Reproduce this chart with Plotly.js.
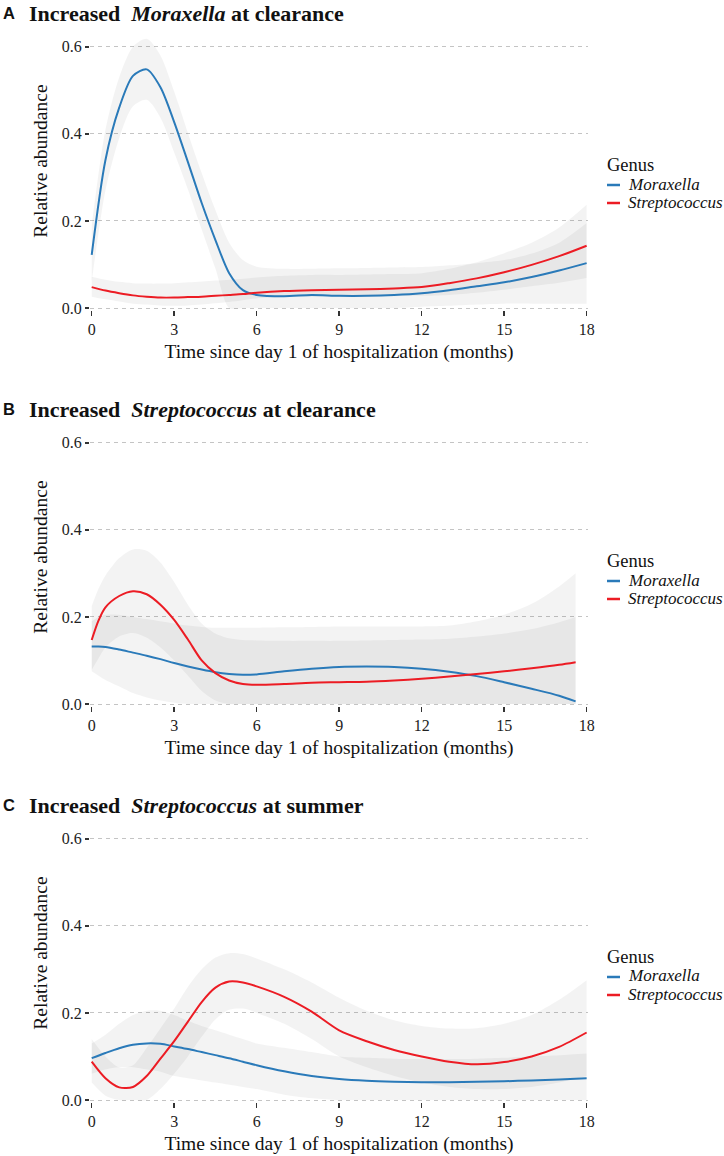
<!DOCTYPE html>
<html>
<head>
<meta charset="utf-8">
<script src="https://cdn.plot.ly/plotly-3.0.1.min.js"></script>
<style>
  html, body { margin: 0; padding: 0; background: #fff; }
  #chart { width: 724px; height: 1156px; }
</style>
</head>
<body>
<div id="chart"></div>
<script>
// smoothed relative abundance (loess fits)
var months = [0, 0.5, 1, 1.5, 2, 2.5, 3, 3.5, 4, 4.5, 5, 5.5, 6, 7, 8, 9, 10, 11, 12, 13, 14, 15, 16, 17, 18];
var monthsB = [0, 0.25, 0.5, 1, 1.5, 2, 2.5, 3, 3.5, 4, 4.5, 5, 5.5, 6, 7, 8, 9, 10, 11, 12, 13, 14, 15, 16, 17, 17.6];
var xTicks = [0, 3, 6, 9, 12, 15, 18];
var yTicks = [0, 0.2, 0.4, 0.6];
var yTickText = ["0.0", "0.2", "0.4", "0.6"];

// panel A - increased Moraxella at clearance
var moraxA    = [0.122, 0.34, 0.46, 0.533, 0.548, 0.507, 0.427, 0.335, 0.241, 0.156, 0.080, 0.041, 0.030, 0.027, 0.030, 0.028, 0.028, 0.030, 0.034, 0.041, 0.050, 0.059, 0.071, 0.086, 0.103];
var moraxALo  = [0.06, 0.27, 0.39, 0.463, 0.478, 0.437, 0.357, 0.272, 0.18, 0.09, 0.0, 0, 0, 0, 0, 0, 0, 0, 0.003, 0.005, 0.008, 0.01, 0.01, 0.01, 0.01];
var moraxAHi  = [0.19, 0.41, 0.53, 0.60, 0.618, 0.58, 0.497, 0.402, 0.31, 0.225, 0.15, 0.11, 0.095, 0.09, 0.09, 0.091, 0.092, 0.093, 0.094, 0.098, 0.103, 0.11, 0.125, 0.15, 0.195];
var streptA   = [0.048, 0.040, 0.034, 0.029, 0.026, 0.024, 0.024, 0.025, 0.026, 0.028, 0.030, 0.032, 0.035, 0.039, 0.041, 0.042, 0.043, 0.045, 0.048, 0.057, 0.068, 0.082, 0.099, 0.119, 0.143];
var streptALo = [0.026, 0.02, 0.015, 0.01, 0.008, 0.006, 0.005, 0.006, 0.008, 0.011, 0.014, 0.018, 0.022, 0.025, 0.026, 0.026, 0.026, 0.027, 0.028, 0.030, 0.035, 0.042, 0.050, 0.058, 0.069];
var streptAHi = [0.072, 0.065, 0.06, 0.057, 0.056, 0.056, 0.057, 0.059, 0.061, 0.063, 0.065, 0.067, 0.070, 0.074, 0.076, 0.076, 0.077, 0.078, 0.080, 0.090, 0.105, 0.126, 0.150, 0.185, 0.237];

// panel B - increased Streptococcus at clearance
var moraxB    = [0.132, 0.132, 0.131, 0.125, 0.118, 0.111, 0.103, 0.094, 0.086, 0.079, 0.073, 0.069, 0.067, 0.068, 0.075, 0.081, 0.085, 0.086, 0.085, 0.081, 0.074, 0.064, 0.050, 0.035, 0.019, 0.006];
var moraxBLo  = [0.075, 0.065, 0.055, 0.04, 0.025, 0.015, 0.008, 0.003, 0, 0, 0, 0, 0, 0, 0, 0, 0, 0, 0, 0, 0, 0, 0, 0, 0, 0];
var moraxBHi  = [0.19, 0.20, 0.205, 0.205, 0.20, 0.195, 0.19, 0.185, 0.18, 0.177, 0.175, 0.175, 0.175, 0.175, 0.176, 0.177, 0.178, 0.178, 0.178, 0.178, 0.18, 0.19, 0.205, 0.23, 0.27, 0.30];
var streptB   = [0.147, 0.192, 0.222, 0.248, 0.259, 0.252, 0.228, 0.193, 0.148, 0.100, 0.071, 0.054, 0.046, 0.044, 0.046, 0.049, 0.050, 0.051, 0.054, 0.058, 0.063, 0.069, 0.075, 0.082, 0.090, 0.096];
var streptBLo = [0.078, 0.105, 0.13, 0.155, 0.163, 0.152, 0.13, 0.10, 0.065, 0.03, 0.008, 0, 0, 0, 0, 0, 0, 0, 0, 0, 0, 0, 0, 0, 0, 0];
var streptBHi = [0.225, 0.265, 0.295, 0.335, 0.355, 0.352, 0.325, 0.28, 0.228, 0.185, 0.162, 0.151, 0.147, 0.146, 0.145, 0.145, 0.145, 0.146, 0.147, 0.148, 0.15, 0.155, 0.162, 0.172, 0.188, 0.20];

// panel C - increased Streptococcus at summer
var moraxC    = [0.096, 0.108, 0.119, 0.127, 0.130, 0.129, 0.123, 0.117, 0.110, 0.103, 0.096, 0.088, 0.080, 0.066, 0.055, 0.048, 0.044, 0.042, 0.041, 0.041, 0.042, 0.043, 0.045, 0.047, 0.050];
var moraxCLo  = [0.06, 0.07, 0.075, 0.075, 0.07, 0.065, 0.055, 0.05, 0.045, 0.04, 0.035, 0.03, 0.025, 0.012, 0.004, 0, 0, 0, 0, 0, 0, 0, 0, 0, 0];
var moraxCHi  = [0.13, 0.15, 0.175, 0.195, 0.205, 0.205, 0.195, 0.182, 0.17, 0.16, 0.15, 0.14, 0.13, 0.12, 0.11, 0.10, 0.097, 0.095, 0.094, 0.094, 0.095, 0.097, 0.10, 0.103, 0.107];
var streptC   = [0.088, 0.050, 0.029, 0.030, 0.055, 0.095, 0.135, 0.18, 0.225, 0.258, 0.272, 0.270, 0.261, 0.237, 0.203, 0.160, 0.135, 0.115, 0.100, 0.088, 0.082, 0.087, 0.100, 0.122, 0.155];
var streptCLo = [0.04, 0.01, 0, 0, 0, 0.025, 0.06, 0.10, 0.145, 0.185, 0.207, 0.21, 0.20, 0.175, 0.14, 0.10, 0.075, 0.055, 0.04, 0.03, 0.025, 0.025, 0.03, 0.04, 0.055];
var streptCHi = [0.14, 0.10, 0.075, 0.08, 0.12, 0.165, 0.21, 0.26, 0.30, 0.327, 0.337, 0.335, 0.325, 0.30, 0.27, 0.235, 0.205, 0.183, 0.17, 0.164, 0.165, 0.175, 0.195, 0.23, 0.275];

var genera = ["Moraxella", "Streptococcus"];
var colors = ["#2a7ab9", "#ec1c24"];
var band = "rgba(0,0,0,0.048)";
var serif = "Liberation Serif";

var W = 724, H = 1156;
function px(x) { return x / W; }
function py(y) { return 1 - y / H; }

// zero line pixel row of each panel
var zeroRow = [308, 704, 1100];
var panelTitles = [
  "Increased &nbsp;<i>Moraxella</i> at clearance",
  "Increased &nbsp;<i>Streptococcus</i> at clearance",
  "Increased &nbsp;<i>Streptococcus</i> at summer"
];
var letters = ["A", "B", "C"];

var panels = [
  {x: months,  m: moraxA, mLo: moraxALo, mHi: moraxAHi, s: streptA, sLo: streptALo, sHi: streptAHi},
  {x: monthsB, m: moraxB, mLo: moraxBLo, mHi: moraxBHi, s: streptB, sLo: streptBLo, sHi: streptBHi},
  {x: months,  m: moraxC, mLo: moraxCLo, mHi: moraxCHi, s: streptC, sLo: streptCLo, sHi: streptCHi}
];

var traces = [];
var layout = {
  width: W, height: H,
  margin: {l: 0, r: 0, t: 0, b: 0},
  paper_bgcolor: "#fff",
  plot_bgcolor: "rgba(0,0,0,0)",
  font: {family: serif, color: "#1a1a1a"},
  showlegend: false,
  annotations: [],
  shapes: []
};

var yLo = -0.005, yHi = 0.68, pxPerUnit = 435.5;

panels.forEach(function(p, i) {
  var n = i === 0 ? "" : String(i + 1);
  var xa = "x" + n, ya = "y" + n;
  var bands = [[p.mLo, p.mHi], [p.sLo, p.sHi]];
  bands.forEach(function(b) {
    traces.push({x: p.x, y: b[0], xaxis: xa, yaxis: ya, type: "scatter", mode: "lines",
      line: {width: 0, shape: "spline", smoothing: 0.8}, hoverinfo: "skip"});
    traces.push({x: p.x, y: b[1], xaxis: xa, yaxis: ya, type: "scatter", mode: "lines",
      line: {width: 0, shape: "spline", smoothing: 0.8}, fill: "tonexty", fillcolor: band, hoverinfo: "skip"});
  });
  [p.m, p.s].forEach(function(vals, g) {
    traces.push({x: p.x, y: vals, xaxis: xa, yaxis: ya, type: "scatter", mode: "lines",
      name: genera[g], line: {color: colors[g], width: 2, shape: "spline", smoothing: 0.8}});
  });

  var z = zeroRow[i];
  var top = z - (yHi) * pxPerUnit, bottom = z - yLo * pxPerUnit;
  layout["xaxis" + n] = {
    domain: [px(90), px(588)], range: [-0.062, 18.05], anchor: ya,
    tickvals: xTicks, ticks: "outside", ticklen: 5, tickwidth: 1.5, tickcolor: "#333",
    showgrid: false, zeroline: false, showline: false, fixedrange: true,
    tickfont: {family: serif, size: 16, color: "#222"},
    title: {text: "Time since day 1 of hospitalization (months)", font: {family: serif, size: 19.5, color: "#111"}, standoff: 6}
  };
  layout["yaxis" + n] = {
    domain: [py(bottom), py(top)], range: [yLo, yHi], anchor: xa,
    tickvals: yTicks, ticktext: yTickText, ticks: "outside", ticklen: 4, tickwidth: 2, tickcolor: "#333",
    showgrid: true, gridcolor: "#c4c4c4", gridwidth: 1, griddash: "4px,4px",
    zeroline: false, showline: false, fixedrange: true,
    tickfont: {family: serif, size: 16, color: "#222"},
    title: {text: "Relative abundance", font: {family: serif, size: 19.5, color: "#111"}, standoff: 8}
  };

  var titleRow = z - 295;
  layout.annotations.push({xref: "paper", yref: "paper", x: px(1), y: py(titleRow), xanchor: "left", yanchor: "middle",
    text: "<b>" + letters[i] + "</b>", showarrow: false, font: {family: "Liberation Sans", size: 16.5, color: "#111"}});
  layout.annotations.push({xref: "paper", yref: "paper", x: px(27), y: py(titleRow), xanchor: "left", yanchor: "middle",
    text: "<b>" + panelTitles[i] + "</b>", showarrow: false, font: {family: serif, size: 22, color: "#111"}});

  // legend per panel
  layout.annotations.push({xref: "paper", yref: "paper", x: px(605), y: py(z - 143), xanchor: "left", yanchor: "middle",
    text: "Genus", showarrow: false, font: {family: serif, size: 18.5, color: "#111"}});
  genera.forEach(function(gname, g) {
    var row = z - 124 + g * 18;
    layout.annotations.push({xref: "paper", yref: "paper", x: px(626), y: py(row), xanchor: "left", yanchor: "middle",
      text: "<i>" + gname + "</i>", showarrow: false, font: {family: serif, size: 17, color: "#111"}});
    layout.shapes.push({type: "line", xref: "paper", yref: "paper", x0: px(607), x1: px(620), y0: py(row + 1), y1: py(row + 1),
      line: {color: colors[g], width: 2.5}});
  });
});

Plotly.newPlot("chart", traces, layout, {staticPlot: true, displayModeBar: false});
</script>
</body>
</html>
